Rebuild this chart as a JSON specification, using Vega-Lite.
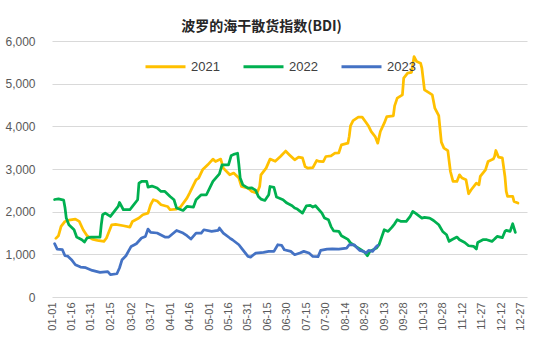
{
  "$schema": "https://vega.github.io/schema/vega-lite/v6.json",
  "width": 475,
  "height": 256,
  "autosize": {"type": "none"},
  "padding": {"left": 52, "top": 41, "right": 6, "bottom": 45},
  "background": "white",
  "config": {"view": {"stroke": null}, "font": "Liberation Sans"},
  "title": {"text": "波罗的海干散货指数(BDI)", "font": "Noto Sans CJK SC", "fontSize": 14, "fontWeight": "bold", "color": "#262626", "anchor": "middle", "dx": -28, "dy": 8, "offset": 9},
  "data": {"values": [
    {"date":"2021-01-04","year":"2021","v":1374},{"date":"2021-01-06","year":"2021","v":1436},{"date":"2021-01-08","year":"2021","v":1654},{"date":"2021-01-11","year":"2021","v":1771},{"date":"2021-01-14","year":"2021","v":1800},{"date":"2021-01-19","year":"2021","v":1826},{"date":"2021-01-22","year":"2021","v":1771},{"date":"2021-01-25","year":"2021","v":1576},{"date":"2021-01-28","year":"2021","v":1436},{"date":"2021-02-01","year":"2021","v":1358},{"date":"2021-02-05","year":"2021","v":1326},{"date":"2021-02-10","year":"2021","v":1303},{"date":"2021-02-12","year":"2021","v":1382},{"date":"2021-02-16","year":"2021","v":1693},{"date":"2021-02-19","year":"2021","v":1700},{"date":"2021-02-25","year":"2021","v":1670},{"date":"2021-03-01","year":"2021","v":1639},{"date":"2021-03-03","year":"2021","v":1771},{"date":"2021-03-08","year":"2021","v":1850},{"date":"2021-03-11","year":"2021","v":1927},{"date":"2021-03-15","year":"2021","v":1966},{"date":"2021-03-17","year":"2021","v":2162},{"date":"2021-03-19","year":"2021","v":2279},{"date":"2021-03-22","year":"2021","v":2250},{"date":"2021-03-25","year":"2021","v":2162},{"date":"2021-03-30","year":"2021","v":2122},{"date":"2021-04-01","year":"2021","v":2045},{"date":"2021-04-06","year":"2021","v":2060},{"date":"2021-04-09","year":"2021","v":2108},{"date":"2021-04-14","year":"2021","v":2318},{"date":"2021-04-16","year":"2021","v":2435},{"date":"2021-04-21","year":"2021","v":2747},{"date":"2021-04-23","year":"2021","v":2787},{"date":"2021-04-26","year":"2021","v":2981},{"date":"2021-04-30","year":"2021","v":3098},{"date":"2021-05-04","year":"2021","v":3232},{"date":"2021-05-06","year":"2021","v":3176},{"date":"2021-05-10","year":"2021","v":3232},{"date":"2021-05-12","year":"2021","v":3021},{"date":"2021-05-17","year":"2021","v":2864},{"date":"2021-05-20","year":"2021","v":2904},{"date":"2021-05-24","year":"2021","v":2787},{"date":"2021-05-26","year":"2021","v":2590},{"date":"2021-05-31","year":"2021","v":2553},{"date":"2021-06-03","year":"2021","v":2474},{"date":"2021-06-07","year":"2021","v":2435},{"date":"2021-06-09","year":"2021","v":2590},{"date":"2021-06-10","year":"2021","v":2864},{"date":"2021-06-14","year":"2021","v":3021},{"date":"2021-06-17","year":"2021","v":3232},{"date":"2021-06-21","year":"2021","v":3180},{"date":"2021-06-25","year":"2021","v":3293},{"date":"2021-06-29","year":"2021","v":3420},{"date":"2021-07-02","year":"2021","v":3330},{"date":"2021-07-06","year":"2021","v":3215},{"date":"2021-07-09","year":"2021","v":3279},{"date":"2021-07-12","year":"2021","v":3260},{"date":"2021-07-14","year":"2021","v":3059},{"date":"2021-07-16","year":"2021","v":3021},{"date":"2021-07-20","year":"2021","v":3030},{"date":"2021-07-23","year":"2021","v":3200},{"date":"2021-07-25","year":"2021","v":3176},{"date":"2021-07-28","year":"2021","v":3170},{"date":"2021-07-30","year":"2021","v":3293},{"date":"2021-08-03","year":"2021","v":3310},{"date":"2021-08-06","year":"2021","v":3372},{"date":"2021-08-09","year":"2021","v":3380},{"date":"2021-08-11","year":"2021","v":3567},{"date":"2021-08-16","year":"2021","v":3606},{"date":"2021-08-17","year":"2021","v":3761},{"date":"2021-08-18","year":"2021","v":4011},{"date":"2021-08-20","year":"2021","v":4136},{"date":"2021-08-24","year":"2021","v":4215},{"date":"2021-08-27","year":"2021","v":4215},{"date":"2021-08-30","year":"2021","v":4089},{"date":"2021-09-01","year":"2021","v":4000},{"date":"2021-09-03","year":"2021","v":3878},{"date":"2021-09-06","year":"2021","v":3761},{"date":"2021-09-08","year":"2021","v":3606},{"date":"2021-09-10","year":"2021","v":3878},{"date":"2021-09-13","year":"2021","v":4075},{"date":"2021-09-15","year":"2021","v":4230},{"date":"2021-09-20","year":"2021","v":4245},{"date":"2021-09-21","year":"2021","v":4480},{"date":"2021-09-23","year":"2021","v":4660},{"date":"2021-09-27","year":"2021","v":4738},{"date":"2021-09-28","year":"2021","v":5129},{"date":"2021-10-01","year":"2021","v":5246},{"date":"2021-10-04","year":"2021","v":5265},{"date":"2021-10-06","year":"2021","v":5635},{"date":"2021-10-08","year":"2021","v":5518},{"date":"2021-10-11","year":"2021","v":5480},{"date":"2021-10-12","year":"2021","v":5363},{"date":"2021-10-14","year":"2021","v":4855},{"date":"2021-10-18","year":"2021","v":4777},{"date":"2021-10-20","year":"2021","v":4738},{"date":"2021-10-22","year":"2021","v":4426},{"date":"2021-10-25","year":"2021","v":4250},{"date":"2021-10-27","year":"2021","v":3630},{"date":"2021-10-29","year":"2021","v":3489},{"date":"2021-11-01","year":"2021","v":3430},{"date":"2021-11-03","year":"2021","v":2942},{"date":"2021-11-05","year":"2021","v":2708},{"date":"2021-11-08","year":"2021","v":2708},{"date":"2021-11-10","year":"2021","v":2864},{"date":"2021-11-12","year":"2021","v":2787},{"date":"2021-11-15","year":"2021","v":2747},{"date":"2021-11-17","year":"2021","v":2420},{"date":"2021-11-19","year":"2021","v":2513},{"date":"2021-11-23","year":"2021","v":2670},{"date":"2021-11-25","year":"2021","v":2630},{"date":"2021-11-26","year":"2021","v":2825},{"date":"2021-11-30","year":"2021","v":2981},{"date":"2021-12-02","year":"2021","v":3176},{"date":"2021-12-06","year":"2021","v":3232},{"date":"2021-12-07","year":"2021","v":3293},{"date":"2021-12-08","year":"2021","v":3434},{"date":"2021-12-10","year":"2021","v":3279},{"date":"2021-12-13","year":"2021","v":3260},{"date":"2021-12-15","year":"2021","v":2825},{"date":"2021-12-16","year":"2021","v":2474},{"date":"2021-12-17","year":"2021","v":2357},{"date":"2021-12-21","year":"2021","v":2357},{"date":"2021-12-22","year":"2021","v":2240},{"date":"2021-12-25","year":"2021","v":2201},
    {"date":"2022-01-03","year":"2022","v":2285},{"date":"2022-01-06","year":"2022","v":2300},{"date":"2022-01-10","year":"2022","v":2270},{"date":"2022-01-11","year":"2022","v":2100},{"date":"2022-01-12","year":"2022","v":1850},{"date":"2022-01-14","year":"2022","v":1693},{"date":"2022-01-18","year":"2022","v":1576},{"date":"2022-01-20","year":"2022","v":1405},{"date":"2022-01-24","year":"2022","v":1342},{"date":"2022-01-26","year":"2022","v":1288},{"date":"2022-01-28","year":"2022","v":1382},{"date":"2022-01-31","year":"2022","v":1405},{"date":"2022-02-07","year":"2022","v":1405},{"date":"2022-02-08","year":"2022","v":1700},{"date":"2022-02-09","year":"2022","v":1927},{"date":"2022-02-11","year":"2022","v":1966},{"date":"2022-02-15","year":"2022","v":1888},{"date":"2022-02-18","year":"2022","v":2005},{"date":"2022-02-21","year":"2022","v":2122},{"date":"2022-02-22","year":"2022","v":2216},{"date":"2022-02-25","year":"2022","v":2045},{"date":"2022-03-01","year":"2022","v":2045},{"date":"2022-03-03","year":"2022","v":2122},{"date":"2022-03-07","year":"2022","v":2279},{"date":"2022-03-08","year":"2022","v":2670},{"date":"2022-03-10","year":"2022","v":2708},{"date":"2022-03-14","year":"2022","v":2708},{"date":"2022-03-15","year":"2022","v":2576},{"date":"2022-03-18","year":"2022","v":2600},{"date":"2022-03-22","year":"2022","v":2553},{"date":"2022-03-25","year":"2022","v":2474},{"date":"2022-03-28","year":"2022","v":2474},{"date":"2022-04-01","year":"2022","v":2357},{"date":"2022-04-04","year":"2022","v":2279},{"date":"2022-04-06","year":"2022","v":2084},{"date":"2022-04-11","year":"2022","v":2028},{"date":"2022-04-14","year":"2022","v":2122},{"date":"2022-04-19","year":"2022","v":2108},{"date":"2022-04-21","year":"2022","v":2279},{"date":"2022-04-25","year":"2022","v":2396},{"date":"2022-04-29","year":"2022","v":2396},{"date":"2022-05-04","year":"2022","v":2708},{"date":"2022-05-09","year":"2022","v":2888},{"date":"2022-05-11","year":"2022","v":3098},{"date":"2022-05-16","year":"2022","v":3098},{"date":"2022-05-18","year":"2022","v":3309},{"date":"2022-05-20","year":"2022","v":3344},{"date":"2022-05-23","year":"2022","v":3369},{"date":"2022-05-24","year":"2022","v":3100},{"date":"2022-05-25","year":"2022","v":2787},{"date":"2022-05-27","year":"2022","v":2630},{"date":"2022-05-31","year":"2022","v":2553},{"date":"2022-06-03","year":"2022","v":2560},{"date":"2022-06-06","year":"2022","v":2497},{"date":"2022-06-08","year":"2022","v":2357},{"date":"2022-06-10","year":"2022","v":2295},{"date":"2022-06-13","year":"2022","v":2263},{"date":"2022-06-16","year":"2022","v":2396},{"date":"2022-06-17","year":"2022","v":2590},{"date":"2022-06-20","year":"2022","v":2570},{"date":"2022-06-22","year":"2022","v":2342},{"date":"2022-06-27","year":"2022","v":2279},{"date":"2022-06-30","year":"2022","v":2201},{"date":"2022-07-04","year":"2022","v":2138},{"date":"2022-07-06","year":"2022","v":2084},{"date":"2022-07-08","year":"2022","v":2061},{"date":"2022-07-12","year":"2022","v":1967},{"date":"2022-07-15","year":"2022","v":2138},{"date":"2022-07-18","year":"2022","v":2150},{"date":"2022-07-20","year":"2022","v":2108},{"date":"2022-07-22","year":"2022","v":2138},{"date":"2022-07-27","year":"2022","v":1967},{"date":"2022-07-29","year":"2022","v":1850},{"date":"2022-08-01","year":"2022","v":1810},{"date":"2022-08-03","year":"2022","v":1650},{"date":"2022-08-05","year":"2022","v":1550},{"date":"2022-08-09","year":"2022","v":1540},{"date":"2022-08-11","year":"2022","v":1436},{"date":"2022-08-16","year":"2022","v":1350},{"date":"2022-08-18","year":"2022","v":1270},{"date":"2022-08-22","year":"2022","v":1185},{"date":"2022-08-26","year":"2022","v":1108},{"date":"2022-08-29","year":"2022","v":1045},{"date":"2022-08-31","year":"2022","v":967},{"date":"2022-09-02","year":"2022","v":1069},{"date":"2022-09-07","year":"2022","v":1147},{"date":"2022-09-09","year":"2022","v":1225},{"date":"2022-09-13","year":"2022","v":1576},{"date":"2022-09-16","year":"2022","v":1537},{"date":"2022-09-19","year":"2022","v":1639},{"date":"2022-09-21","year":"2022","v":1716},{"date":"2022-09-23","year":"2022","v":1810},{"date":"2022-09-26","year":"2022","v":1771},{"date":"2022-09-30","year":"2022","v":1771},{"date":"2022-10-03","year":"2022","v":1888},{"date":"2022-10-05","year":"2022","v":2005},{"date":"2022-10-07","year":"2022","v":1966},{"date":"2022-10-12","year":"2022","v":1850},{"date":"2022-10-14","year":"2022","v":1866},{"date":"2022-10-18","year":"2022","v":1850},{"date":"2022-10-21","year":"2022","v":1794},{"date":"2022-10-25","year":"2022","v":1693},{"date":"2022-10-28","year":"2022","v":1537},{"date":"2022-10-31","year":"2022","v":1459},{"date":"2022-11-02","year":"2022","v":1303},{"date":"2022-11-04","year":"2022","v":1342},{"date":"2022-11-08","year":"2022","v":1405},{"date":"2022-11-10","year":"2022","v":1342},{"date":"2022-11-14","year":"2022","v":1279},{"date":"2022-11-17","year":"2022","v":1201},{"date":"2022-11-21","year":"2022","v":1185},{"date":"2022-11-23","year":"2022","v":1124},{"date":"2022-11-24","year":"2022","v":1279},{"date":"2022-11-28","year":"2022","v":1342},{"date":"2022-12-01","year":"2022","v":1342},{"date":"2022-12-05","year":"2022","v":1303},{"date":"2022-12-07","year":"2022","v":1358},{"date":"2022-12-09","year":"2022","v":1420},{"date":"2022-12-13","year":"2022","v":1390},{"date":"2022-12-15","year":"2022","v":1537},{"date":"2022-12-16","year":"2022","v":1560},{"date":"2022-12-19","year":"2022","v":1540},{"date":"2022-12-21","year":"2022","v":1716},{"date":"2022-12-22","year":"2022","v":1616},{"date":"2022-12-23","year":"2022","v":1515},
    {"date":"2023-01-03","year":"2023","v":1250},{"date":"2023-01-05","year":"2023","v":1124},{"date":"2023-01-09","year":"2023","v":1108},{"date":"2023-01-11","year":"2023","v":967},{"date":"2023-01-13","year":"2023","v":960},{"date":"2023-01-16","year":"2023","v":874},{"date":"2023-01-19","year":"2023","v":756},{"date":"2023-01-23","year":"2023","v":702},{"date":"2023-01-27","year":"2023","v":686},{"date":"2023-02-01","year":"2023","v":623},{"date":"2023-02-07","year":"2023","v":577},{"date":"2023-02-13","year":"2023","v":593},{"date":"2023-02-15","year":"2023","v":522},{"date":"2023-02-20","year":"2023","v":545},{"date":"2023-02-22","year":"2023","v":679},{"date":"2023-02-24","year":"2023","v":874},{"date":"2023-02-27","year":"2023","v":967},{"date":"2023-03-02","year":"2023","v":1185},{"date":"2023-03-06","year":"2023","v":1248},{"date":"2023-03-10","year":"2023","v":1382},{"date":"2023-03-13","year":"2023","v":1420},{"date":"2023-03-15","year":"2023","v":1592},{"date":"2023-03-17","year":"2023","v":1513},{"date":"2023-03-22","year":"2023","v":1500},{"date":"2023-03-28","year":"2023","v":1405},{"date":"2023-03-31","year":"2023","v":1405},{"date":"2023-04-06","year":"2023","v":1560},{"date":"2023-04-11","year":"2023","v":1499},{"date":"2023-04-14","year":"2023","v":1436},{"date":"2023-04-17","year":"2023","v":1358},{"date":"2023-04-21","year":"2023","v":1499},{"date":"2023-04-25","year":"2023","v":1499},{"date":"2023-04-27","year":"2023","v":1576},{"date":"2023-05-03","year":"2023","v":1538},{"date":"2023-05-08","year":"2023","v":1560},{"date":"2023-05-09","year":"2023","v":1616},{"date":"2023-05-12","year":"2023","v":1499},{"date":"2023-05-17","year":"2023","v":1382},{"date":"2023-05-19","year":"2023","v":1342},{"date":"2023-05-24","year":"2023","v":1225},{"date":"2023-05-26","year":"2023","v":1147},{"date":"2023-05-31","year":"2023","v":951},{"date":"2023-06-02","year":"2023","v":936},{"date":"2023-06-06","year":"2023","v":1030},{"date":"2023-06-12","year":"2023","v":1046},{"date":"2023-06-16","year":"2023","v":1069},{"date":"2023-06-20","year":"2023","v":1069},{"date":"2023-06-23","year":"2023","v":1225},{"date":"2023-06-26","year":"2023","v":1210},{"date":"2023-06-28","year":"2023","v":1108},{"date":"2023-07-03","year":"2023","v":1069},{"date":"2023-07-06","year":"2023","v":991},{"date":"2023-07-10","year":"2023","v":1030},{"date":"2023-07-13","year":"2023","v":1069},{"date":"2023-07-17","year":"2023","v":1030},{"date":"2023-07-20","year":"2023","v":951},{"date":"2023-07-24","year":"2023","v":945},{"date":"2023-07-26","year":"2023","v":1092},{"date":"2023-07-31","year":"2023","v":1124},{"date":"2023-08-04","year":"2023","v":1130},{"date":"2023-08-09","year":"2023","v":1124},{"date":"2023-08-15","year":"2023","v":1147},{"date":"2023-08-17","year":"2023","v":1225},{"date":"2023-08-21","year":"2023","v":1220},{"date":"2023-08-22","year":"2023","v":1185},{"date":"2023-08-25","year":"2023","v":1092},{"date":"2023-08-28","year":"2023","v":1069},{"date":"2023-08-30","year":"2023","v":1030},{"date":"2023-09-01","year":"2023","v":1092},{"date":"2023-09-04","year":"2023","v":1069},{"date":"2023-09-07","year":"2023","v":1185},{"date":"2023-09-08","year":"2023","v":1210}
  ]},
  "mark": {"type": "line", "strokeWidth": 2.75, "strokeCap": "round", "strokeJoin": "round"},
  "encoding": {
    "x": {
      "field": "date", "type": "temporal", "timeUnit": "utcmonthdate",
      "scale": {"domain": [{"year": 2012, "month": 1, "date": 1, "utc": true}, {"year": 2013, "month": 1, "date": 1, "utc": true}]},
      "axis": {
        "title": null, "format": "%m-%d", "labelAngle": 270, "labelFontSize": 11, "labelColor": "#595959",
        "ticks": false, "domain": false, "grid": false, "labelPadding": 5, "labelOverlap": false, "labelFont": "Liberation Sans",
        "values": [
          {"year":2012,"month":1,"date":1,"utc":true},{"year":2012,"month":1,"date":16,"utc":true},{"year":2012,"month":1,"date":31,"utc":true},
          {"year":2012,"month":2,"date":15,"utc":true},{"year":2012,"month":3,"date":2,"utc":true},{"year":2012,"month":3,"date":17,"utc":true},
          {"year":2012,"month":4,"date":1,"utc":true},{"year":2012,"month":4,"date":16,"utc":true},{"year":2012,"month":5,"date":1,"utc":true},
          {"year":2012,"month":5,"date":16,"utc":true},{"year":2012,"month":5,"date":31,"utc":true},{"year":2012,"month":6,"date":15,"utc":true},
          {"year":2012,"month":6,"date":30,"utc":true},{"year":2012,"month":7,"date":15,"utc":true},{"year":2012,"month":7,"date":30,"utc":true},
          {"year":2012,"month":8,"date":14,"utc":true},{"year":2012,"month":8,"date":29,"utc":true},{"year":2012,"month":9,"date":13,"utc":true},
          {"year":2012,"month":9,"date":28,"utc":true},{"year":2012,"month":10,"date":13,"utc":true},{"year":2012,"month":10,"date":28,"utc":true},
          {"year":2012,"month":11,"date":12,"utc":true},{"year":2012,"month":11,"date":27,"utc":true},{"year":2012,"month":12,"date":12,"utc":true},
          {"year":2012,"month":12,"date":27,"utc":true}
        ]
      }
    },
    "y": {
      "field": "v", "type": "quantitative",
      "scale": {"domain": [0, 6000], "nice": false},
      "axis": {"title": null, "values": [0, 1000, 2000, 3000, 4000, 5000, 6000], "format": ",.0f", "labelFontSize": 12, "labelColor": "#595959", "ticks": false, "domain": false, "gridColor": "#d9d9d9", "gridWidth": 1, "labelPadding": 17, "labelFont": "Liberation Sans"}
    },
    "color": {
      "field": "year", "type": "nominal",
      "scale": {"domain": ["2021", "2022", "2023"], "range": ["#FFC000", "#00B050", "#4472C4"]},
      "legend": {"title": null, "orient": "none", "legendX": 92, "legendY": 4, "direction": "horizontal", "symbolType": "stroke", "symbolSize": 1600, "symbolStrokeWidth": 3, "labelFontSize": 13, "labelColor": "#404040", "labelFont": "Liberation Sans", "columnPadding": 17, "labelOffset": 4}
    }
  }
}
